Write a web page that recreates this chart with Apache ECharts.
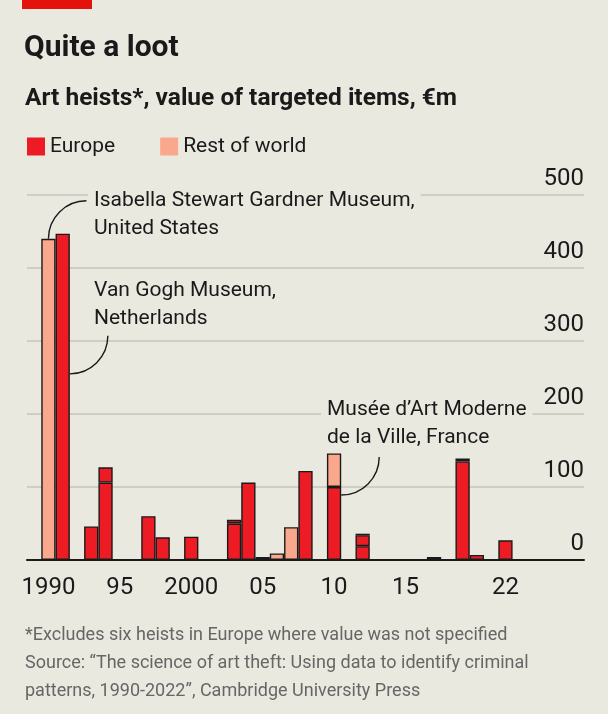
<!DOCTYPE html>
<html>
<head>
<meta charset="utf-8">
<title>Quite a loot</title>
<script src="https://cdn.jsdelivr.net/npm/echarts@6/dist/echarts.min.js"></script>
<style>
  html, body { margin: 0; padding: 0; background: #eae9e0; }
  #chart { width: 608px; height: 714px; }
</style>
</head>
<body>
<div id="chart"></div>
<script>
// value of targeted items, €m, one slot per year 1990-2022
const years = [1990, 1991, 1992, 1993, 1994, 1995, 1996, 1997, 1998, 1999, 2000,
  2001, 2002, 2003, 2004, 2005, 2006, 2007, 2008, 2009, 2010,
  2011, 2012, 2013, 2014, 2015, 2016, 2017, 2018, 2019, 2020, 2021, 2022];
// Europe, stacked heist by heist (thin dark line between them)
const europeA = [null, 447, null, 46, 106, null, null, 60, 31, null, 32,
  null, null, 50, 106, 4, null, null, 122, null, 100,
  null, 19, null, null, null, null, 4, null, 135, 7, null, 27];
const europeB = [null, null, null, null, 21, null, null, null, null, null, null,
  null, null, 5, null, null, null, null, null, null, null,
  null, 15, null, null, null, null, null, null, 4, null, null, null];
const europeC = [null, null, null, null, null, null, null, null, null, null, null,
  null, null, null, null, null, null, null, null, null, null,
  null, 2, null, null, null, null, null, null, null, null, null, null];
const restOfWorld = [440, null, null, null, null, null, null, null, null, null, null,
  null, null, null, null, null, 9, 45, null, null, 46,
  null, null, null, null, null, null, null, null, null, null, null, null];

const tickYears = [1990, 1995, 2000, 2005, 2010, 2015, 2020, 2022];
const labelYears = [1990, 1995, 2000, 2005, 2010, 2015, 2022];
const labelTexts = ['1990', '95', '2000', '05', '10', '15', '22'];
const yTicks = [0, 100, 200, 300, 400, 500];

const RED = '#ed1c24';
const SALMON = '#f9a88d';
const INK = '#1a1a1a';
const BG = '#eae9e0';
const FONT = 'Roboto, "Noto Sans", sans-serif';

// axis runs a bit past the data on both ends
const cats = [];
for (let y = 1989; y <= 2027; y++) cats.push(String(y));
const onAxis = arr => cats.map(c => {
  const i = years.indexOf(+c);
  return i < 0 ? null : arr[i];
});

const barStyle = color => ({
  color: color,
  borderColor: INK,
  borderWidth: 1.4
});

const chart = echarts.init(document.getElementById('chart'));

const option = {
  backgroundColor: BG,
  animation: false,
  textStyle: { fontFamily: FONT },
  title: [
    {
      text: 'Quite a loot',
      left: 19, top: 28,
      textStyle: { fontSize: 30, fontWeight: 'bold', color: INK, fontFamily: FONT }
    },
    {
      text: 'Art heists*, value of targeted items, €m',
      left: 20, top: 81,
      textStyle: { fontSize: 24.5, fontWeight: 'bold', color: INK, fontFamily: FONT }
    },
    {
      text: '*Excludes six heists in Europe where value was not specified\n' +
        'Source: \u201cThe science of art theft: Using data to identify criminal\n' +
        'patterns, 1990-2022\u201d, Cambridge University Press',
      left: 20, top: 616,
      textStyle: { fontSize: 18, fontWeight: 'normal', color: '#666', lineHeight: 28, fontFamily: FONT }
    }
  ],
  legend: {
    data: ['Europe', 'Rest of world'],
    left: 22, top: 131,
    icon: 'rect',
    itemWidth: 18, itemHeight: 18,
    itemGap: 45,
    itemStyle: { borderWidth: 0 },
    selectedMode: false,
    textStyle: { fontSize: 21, color: INK }
  },
  grid: { left: 27, right: 24, top: 195, bottom: 154, containLabel: false },
  xAxis: {
    type: 'category',
    data: cats,
    axisLine: { lineStyle: { color: INK, width: 2 } },
    axisTick: {
      alignWithLabel: true,
      length: 9,
      interval: (i, v) => tickYears.includes(+v),
      lineStyle: { color: INK, width: 1.5 }
    },
    axisLabel: {
      interval: (i, v) => labelYears.includes(+v),
      formatter: v => labelTexts[labelYears.indexOf(+v)],
      fontSize: 24, color: INK, margin: 16
    },
    splitLine: { show: false }
  },
  yAxis: {
    type: 'value',
    position: 'right',
    min: yTicks[0], max: yTicks[yTicks.length - 1], interval: 100,
    axisLine: { show: false },
    axisTick: { show: false },
    axisLabel: {
      inside: true, margin: 0,
      verticalAlign: 'bottom',
      padding: [0, 0, 4, 0],
      fontSize: 24, color: INK
    },
    splitLine: { lineStyle: { color: '#c6c5bb', width: 1.6 } }
  },
  series: [
    { name: 'Europe', type: 'bar', stack: 'all', data: onAxis(europeA), itemStyle: barStyle(RED), barCategoryGap: '0%' },
    { name: 'Europe', type: 'bar', stack: 'all', data: onAxis(europeB), itemStyle: barStyle(RED) },
    { name: 'Europe', type: 'bar', stack: 'all', data: onAxis(europeC), itemStyle: barStyle(RED) },
    { name: 'Rest of world', type: 'bar', stack: 'all', data: onAxis(restOfWorld), itemStyle: barStyle(SALMON) }
  ]
};
chart.setOption(option);

// annotations, leader lines hooked onto the bars through the axes
const px = (year, v) => chart.convertToPixel({ gridIndex: 0 }, [String(year), v]);
const half = (px(1991, 0)[0] - px(1990, 0)[0]) / 2;
const R = 38;
const gardner = px(1990, restOfWorld[0]);
const vanGogh = px(1991, 255);
const paris = px(2010, 89);

const lineStyle = { stroke: INK, lineWidth: 1.4, fill: null };
const note = (id, x, y, text) => ({
  type: 'text', id: id, x: x, y: y, z: 10,
  style: {
    text: text, fill: INK, font: '21px ' + FONT, lineHeight: 28,
    backgroundColor: BG, padding: [0, 6, 0, 6]
  }
});

chart.setOption({
  graphic: [
    { type: 'rect', id: 'flag', shape: { x: 22, y: 0, width: 70, height: 9 }, style: { fill: '#e3120b' } },
    {
      type: 'arc', id: 'a1', z: 9,
      shape: { cx: gardner[0] + R, cy: gardner[1], r: R, startAngle: Math.PI, endAngle: 1.5 * Math.PI, clockwise: true },
      style: lineStyle
    },
    {
      type: 'arc', id: 'a2', z: 9,
      shape: { cx: vanGogh[0] + half, cy: vanGogh[1] - R, r: R, startAngle: 0, endAngle: 0.5 * Math.PI, clockwise: true },
      style: lineStyle
    },
    {
      type: 'arc', id: 'a3', z: 9,
      shape: { cx: paris[0] + half, cy: paris[1] - R, r: R, startAngle: 0, endAngle: 0.5 * Math.PI, clockwise: true },
      style: lineStyle
    },
    note('n1', 88, 187, 'Isabella Stewart Gardner Museum,\nUnited States'),
    note('n2', 88, 277, 'Van Gogh Museum,\nNetherlands'),
    note('n3', 321, 396, 'Musée d\u2019Art Moderne\nde la Ville, France')
  ]
});
</script>
</body>
</html>
